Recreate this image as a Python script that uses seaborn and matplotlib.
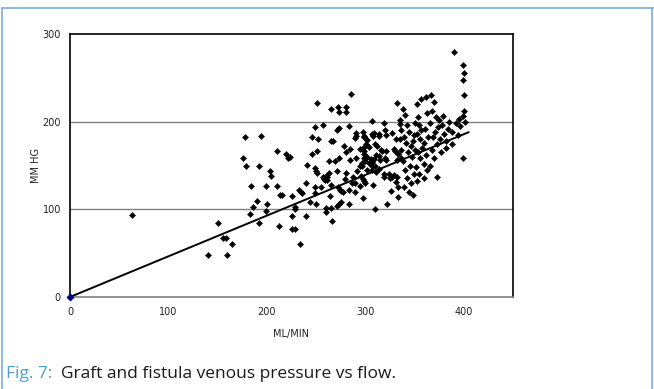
import pandas as pd
import matplotlib.pyplot as plt
import seaborn as sns
from matplotlib.lines import Line2D

# readings (flow ml/min, venous pressure mm hg) in chunks
low_flow = [(0, 0), (63, 93), (140, 48), (150, 84), (155, 67), (158, 67), (159, 48), (165, 60)]

mid_flow = [(176, 158), (178, 182), (179, 149), (184, 127), (186, 103), (183, 95), (190, 110), (192, 150),
            (194, 184), (192, 84), (199, 127), (200, 106), (199, 98), (203, 144), (204, 138), (210, 166),
            (210, 127), (212, 81), (213, 116), (215, 116), (219, 163), (221, 158), (223, 160), (226, 115),
            (225, 92), (226, 78), (229, 78), (229, 103), (229, 100), (234, 61), (233, 122), (235, 120),
            (236, 119), (240, 92), (240, 130), (241, 151), (244, 108), (246, 182), (246, 163), (249, 194),
            (251, 221), (252, 180), (251, 166), (249, 147), (250, 144), (251, 141), (249, 126), (249, 119),
            (250, 106), (255, 126), (257, 196), (257, 137), (258, 135), (260, 138), (261, 137), (259, 133),
            (261, 134), (260, 101), (260, 97), (263, 155), (263, 142), (265, 128), (264, 115), (265, 102),
            (266, 87), (265, 214), (265, 178), (267, 178), (269, 155), (271, 191), (273, 193), (272, 217),
            (280, 217), (273, 211), (280, 211), (285, 232), (271, 144), (273, 159), (272, 126), (274, 122),
            (275, 121), (277, 120), (271, 104), (273, 106), (275, 108), (278, 172), (280, 165), (280, 141),
            (279, 135), (283, 195), (284, 169), (284, 156), (287, 137), (283, 122), (283, 106), (286, 130),
            (290, 130), (289, 120), (290, 181), (291, 184), (291, 187), (291, 159), (292, 144), (295, 169),
            (295, 149), (295, 127), (298, 188), (297, 153), (297, 150), (298, 113)]

upper_mid_flow = [(296, 138), (298, 135), (299, 132), (300, 130), (300, 155), (304, 153), (307, 154),
                  (309, 157), (314, 161), (307, 145), (311, 143), (310, 149), (308, 128), (310, 100),
                  (299, 184), (299, 182), (301, 180), (302, 179), (299, 171), (332, 221), (307, 201),
                  (319, 199), (335, 202), (335, 197), (336, 191), (307, 186), (308, 184), (309, 187),
                  (314, 186), (314, 184), (320, 190), (321, 185), (327, 187), (331, 180), (335, 180),
                  (301, 175), (304, 171), (310, 174), (312, 172), (316, 168), (317, 166), (321, 167),
                  (329, 169), (330, 166), (333, 163), (336, 168), (299, 167), (299, 163), (299, 159),
                  (302, 160), (306, 157), (311, 162), (315, 156), (320, 159), (321, 156), (332, 156),
                  (336, 158), (302, 145), (307, 150), (314, 146), (319, 140), (319, 137), (324, 140),
                  (327, 137), (329, 139), (332, 137), (333, 125), (331, 131), (325, 136), (322, 106),
                  (333, 114), (326, 121)]

high_flow = [(338, 215), (340, 208), (342, 196), (344, 188), (339, 182), (341, 176), (346, 172), (343, 165),
             (347, 160), (338, 155), (345, 150), (340, 145), (349, 140), (342, 136), (346, 130), (339, 126),
             (344, 120), (348, 116), (350, 199), (349, 185), (348, 178), (350, 168),
             (352, 220), (353, 205), (355, 196), (357, 190), (352, 186), (356, 180), (360, 176), (358, 170),
             (354, 165), (362, 162), (356, 158), (360, 152), (363, 145), (351, 148), (355, 140), (360, 136),
             (352, 132), (364, 182), (361, 192), (363, 210), (362, 228), (357, 226),
             (367, 230), (370, 222), (368, 212), (372, 205), (375, 202), (366, 198), (374, 194), (378, 196),
             (371, 188), (369, 183), (376, 180), (380, 186), (373, 175), (368, 168), (377, 165), (382, 170),
             (373, 137), (366, 150), (370, 158), (384, 192), (379, 206), (385, 200), (382, 178),
             (388, 188), (392, 198), (390, 280), (396, 195), (394, 185), (388, 175), (399, 265), (400, 256),
             (399, 248), (400, 230), (400, 212), (399, 206), (401, 200), (399, 158), (395, 203)]

trend_flow = [0, 405]
trend_pressure = [0, 188]

x_ticks = [0, 100, 200, 300, 400]
y_ticks = [0, 100, 200, 300]

pts = low_flow + mid_flow + upper_mid_flow + high_flow
df = pd.DataFrame(pts, columns=['flow', 'pressure'])

sns.set_style('white')
fig = plt.figure(figsize=(6.54, 3.89), dpi=100)
ax = fig.add_axes([70 / 654, 1 - 297 / 389, (513 - 70) / 654, (297 - 34) / 389])

# gridlines at 100 / 200 like excel
for yv in y_ticks[1:3]:
    ax.axhline(yv, color='#808080', lw=1, zorder=1)

sns.lineplot(x=trend_flow, y=trend_pressure, color='black', lw=1.4, ax=ax, zorder=2)
sns.scatterplot(data=df, x='flow', y='pressure', marker='D', s=10, color='black',
                edgecolor='black', linewidth=0.3, ax=ax, zorder=3)
# origin marker is dark blue in the original
ax.scatter([low_flow[0][0]], [low_flow[0][1]], marker='D', s=10, color='#000080', zorder=4, clip_on=False)

ax.set_xlim(0, 450)
ax.set_ylim(0, 300)
ax.set_xticks(x_ticks)
ax.set_yticks(y_ticks)
ax.tick_params(axis='both', labelsize=7, colors='#222222', length=3, width=0.8, direction='out')
ax.tick_params(axis='x', pad=4)
ax.set_xlabel('ML/MIN', fontsize=7, color='#222222', labelpad=9)
ax.set_ylabel('MM HG', fontsize=7, color='#222222')
ax.yaxis.set_label_coords(-0.066, 0.5)

for s in ['top', 'right', 'left']:
    ax.spines[s].set_color('black')
    ax.spines[s].set_linewidth(1.2)
ax.spines['bottom'].set_color('#808080')
ax.spines['bottom'].set_linewidth(1.2)

# light blue frame around the figure box
frame = '#7aaedb'
fig.add_artist(Line2D([2 / 654, 1], [1 - 8 / 389, 1 - 8 / 389], color=frame, lw=1.2))
fig.add_artist(Line2D([2 / 654, 2 / 654], [0, 1 - 8 / 389], color=frame, lw=1.2))
fig.add_artist(Line2D([652 / 654, 652 / 654], [0, 1 - 8 / 389], color=frame, lw=1.2))

fig.text(6 / 654, 1 - 378 / 389, 'Fig. 7:', fontsize=12.5, color='#4f9ed6', family='Open Sans')
fig.text(61 / 654, 1 - 378 / 389, 'Graft and fistula venous pressure vs flow.', fontsize=12.5,
         color='#1a1a1a', family='Open Sans')

fig.savefig('out.png', dpi=100)
